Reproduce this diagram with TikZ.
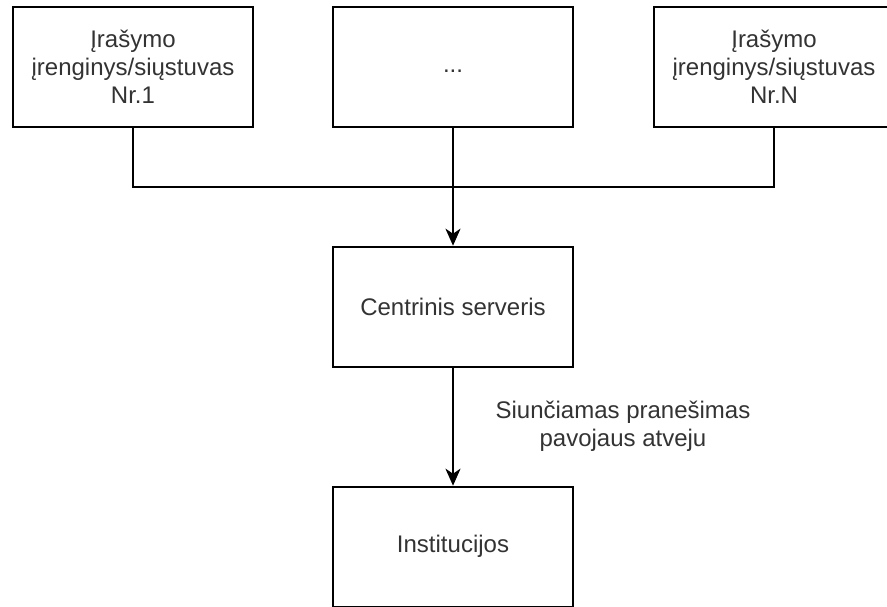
\documentclass[tikz,border=0pt]{standalone}
\usepackage{fontspec}
\setmainfont{Liberation Sans}
\usetikzlibrary{arrows.meta}
\definecolor{txt}{RGB}{51,51,51}
\tikzset{
  blk/.style={draw=black, line width=2pt, fill=white, minimum width=240pt,
    minimum height=120pt, inner sep=0pt, align=center, text=txt,
    font=\fontsize{24pt}{28pt}\selectfont},
  conn/.style={line width=2pt, draw=black},
  arr/.style={conn, -{Stealth[length=17pt, width=15pt, inset=5pt]}},
  lbl/.style={text=txt, align=center, font=\fontsize{24pt}{28pt}\selectfont}
}
\begin{document}
\begin{tikzpicture}[x=1pt, y=-1pt]
\useasboundingbox (0,0) rectangle (887,607);
\clip (0,0) rectangle (887,607);
\fill[white] (0,0) rectangle (887,607);

% recording devices / transmitters
\node[blk] (d1) at (133,66.7) {Įrašymo\\įrenginys/siųstuvas\\Nr.1};
\node[blk] (dm) at (453,66.7) {\strut...};
\node[blk] (dN) at (774,66.7) {Įrašymo\\įrenginys/siųstuvas\\Nr.N};

% server and institutions
\node[blk] (srv) at (453,306.7) {Centrinis serveris};
\node[blk] (inst) at (453,546.7) {Institucijos};

\coordinate (merge) at (453,186.7);

% collecting bus
\draw[conn] (d1.south) |- (merge) -| (dN.south);
\draw[arr] (dm.south) -- (srv.north);

% alert link
\draw[arr] (srv.south) -- (inst.north)
  node[lbl, pos=0.5, xshift=170pt] (alert) {Siunčiamas pranešimas\\pavojaus atveju};
\end{tikzpicture}
\end{document}
